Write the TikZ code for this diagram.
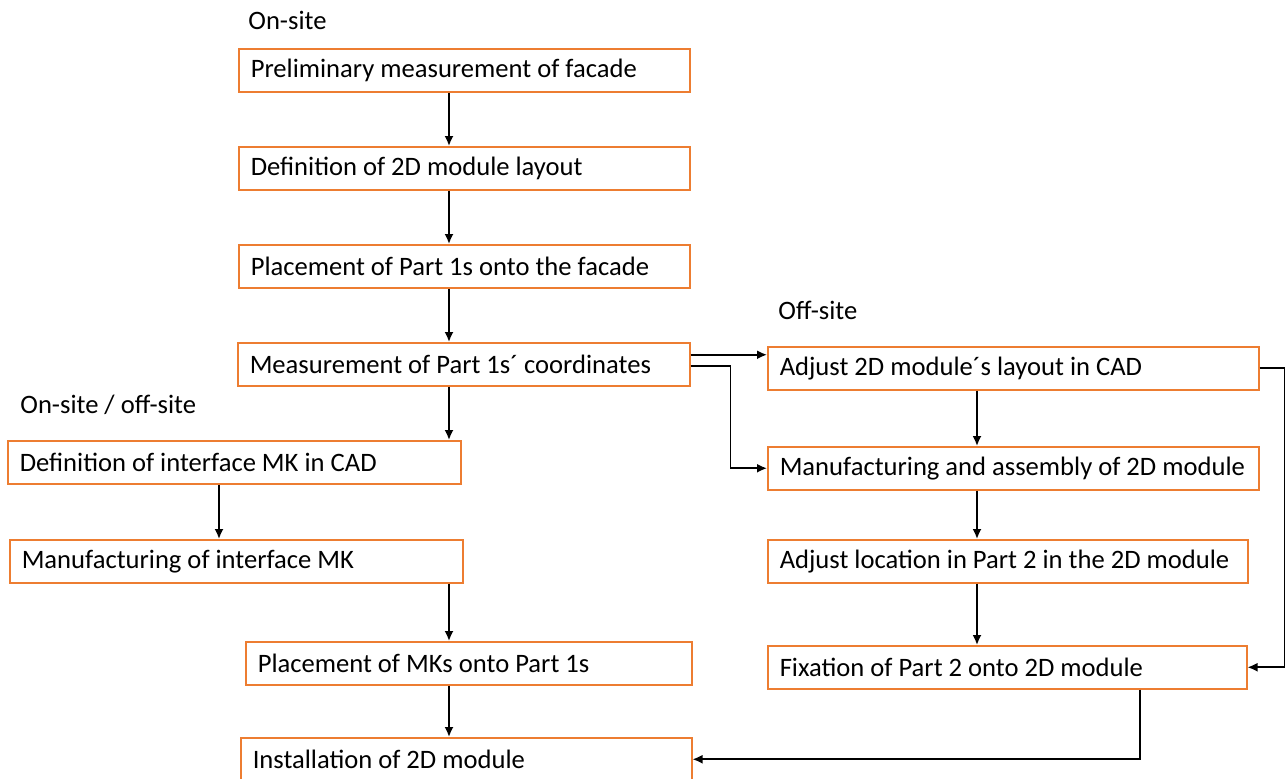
\documentclass[tikz,border=0pt]{standalone}
\usepackage{fontspec}
\setmainfont{Carlito}
\usepackage{tikz}
\usetikzlibrary{arrows.meta}

\definecolor{boxorange}{RGB}{237,125,49}
\tikzset{
    task/.style={draw=boxorange, line width=0.75pt, anchor=north west, minimum height=21.5pt,
        inner xsep=0pt, inner ysep=2pt, align=flush left, font=\fontsize{13.3}{15}\selectfont,
        execute at begin node={\hyphenpenalty=10000\hspace*{6pt}}},
    flow/.style={line width=0.9pt, -{Latex[length=5pt,width=4.5pt]}},
    site/.style={anchor=west, inner sep=0pt, font=\fontsize{13.3}{15}\selectfont}
}

\begin{document}
\begin{tikzpicture}[x=0.5pt,y=-0.5pt]
    \useasboundingbox (0,0) rectangle (1287,778);
    \coordinate (colA) at (449,0);
    \coordinate (colB) at (977,0);
    \coordinate (colC) at (1140,0);

    % left / middle column
    \node[site] (onsite) at (248,20) {On-site};
    \node[task, text width=225.5pt] (prelim) at (238,48) {Preliminary measurement of facade};
    \node[task, text width=225.5pt] (layout) at (238,146) {Definition of 2D module layout};
    \node[task, text width=225.5pt] (place1) at (238,244) {Placement of Part 1s onto the facade};
    \node[task, text width=226pt] (measure) at (237,342) {Measurement of Part 1s´ coordinates};
    \node[site] (mixed) at (20,405) {On-site / off-site};
    \node[task, text width=226.5pt] (mkcad) at (7,440) {Definition of interface MK in CAD};
    \node[task, text width=226.5pt] (mkmanu) at (9,539) {Manufacturing of interface MK};
    \node[task, text width=223pt] (placemk) at (245,641) {Placement of MKs onto Part 1s};
    \node[task, text width=225.5pt] (install) at (240,737) {Installation of 2D module};

    % right column
    \node[site] (offsite) at (778,310) {Off-site};
    \node[task, text width=245.5pt] (adjust) at (767,346) {Adjust 2D module´s layout in CAD};
    \node[task, text width=245.5pt] (assemble) at (767,446) {Manufacturing and assembly of 2D module};
    \node[task, text width=240pt] (locate) at (767,539) {Adjust location in Part 2 in the 2D module};
    \node[task, text width=239.5pt] (fix) at (767,645) {Fixation of Part 2 onto 2D module};

    \draw[flow] (prelim.south -| colA) -- (layout.north -| colA);
    \draw[flow] (layout.south -| colA) -- (place1.north -| colA);
    \draw[flow] (place1.south -| colA) -- (measure.north -| colA);
    \draw[flow] (measure.south -| colA) -- (mkcad.north -| colA);
    \draw[flow] (mkcad.south -| 219,0) -- (mkmanu.north -| 219,0);
    \draw[flow] (mkmanu.south -| colA) -- (placemk.north -| colA);
    \draw[flow] (placemk.south -| colA) -- (install.north -| colA);

    \draw[flow] ([yshift=4.75pt]measure.east) -- ([yshift=4.75pt]measure.east -| adjust.west);
    \draw[flow] ([yshift=-0.75pt]measure.east) -- ++(20pt,0) |- (assemble.west);

    \draw[flow] (adjust.south -| colB) -- (assemble.north -| colB);
    \draw[flow] (assemble.south -| colB) -- (locate.north -| colB);
    \draw[flow] (locate.south -| colB) -- (fix.north -| colB);

    \draw[flow] (adjust.east) -- ++(12.5pt,0) |- (fix.east);
    \draw[flow] (fix.south -| colC) |- (install.east);
\end{tikzpicture}
\end{document}
